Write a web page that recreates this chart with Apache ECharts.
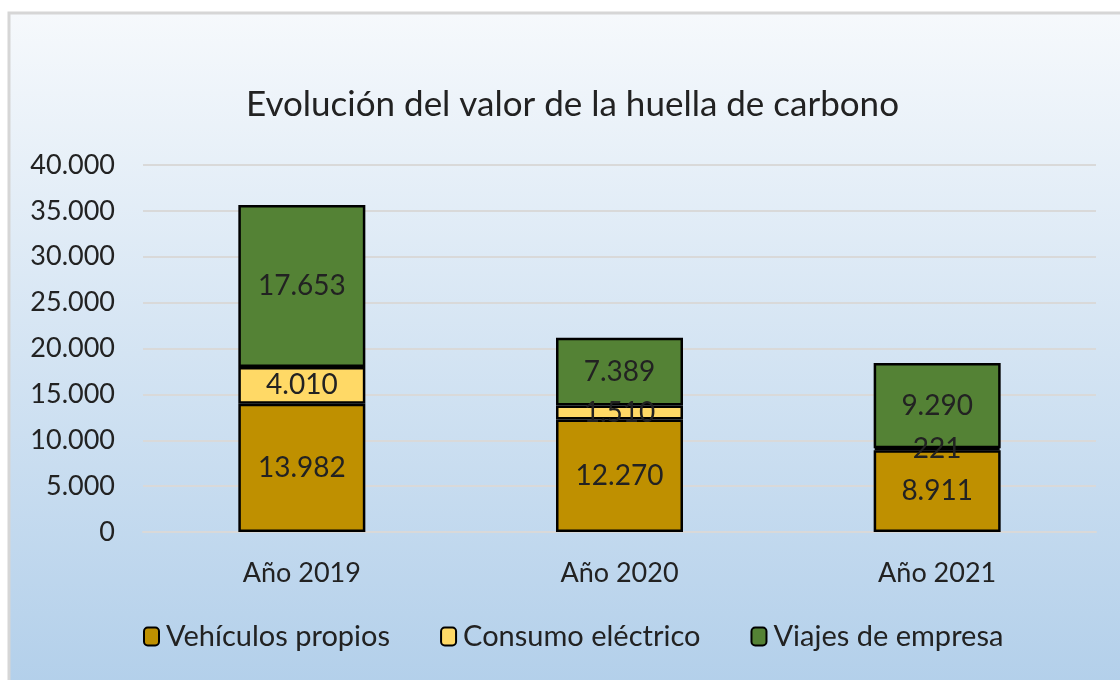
<!DOCTYPE html>
<html>
<head>
<meta charset="utf-8">
<script src="https://cdn.jsdelivr.net/npm/echarts@6/dist/echarts.min.js"></script>
<style>
  html, body { margin: 0; padding: 0; background: #fff; }
  #chart { width: 1120px; height: 680px; }
</style>
</head>
<body>
<div id="chart"></div>
<script>
var years = ['Año 2019', 'Año 2020', 'Año 2021'];
var vehiculos = [13982, 12270, 8911];
var consumo = [4010, 1510, 221];
var viajes = [17653, 7389, 9290];
var seriesNames = ['Vehículos propios', 'Consumo eléctrico', 'Viajes de empresa'];
var colors = ['#bf9000', '#ffd966', '#548235'];

function fmt(v) {
  return String(v).replace(/\B(?=(\d{3})+(?!\d))/g, '.');
}

var FONT = 'Lato';

function makeSeries(name, data, color) {
  return {
    name: name,
    type: 'bar',
    stack: 'total',
    barWidth: 127,
    data: data,
    itemStyle: { color: color, borderColor: '#000', borderWidth: 2.5 },
    label: {
      show: true,
      position: 'inside',
      color: '#222',
      fontFamily: FONT,
      fontSize: 28,
      formatter: function (p) { return fmt(p.value); }
    }
  };
}

var option = {
  animation: false,
  graphic: [{
    type: 'rect',
    shape: { x: 9, y: 13, width: 1120, height: 680 },
    style: {
      fill: new echarts.graphic.LinearGradient(0, 0, 0, 1, [
        { offset: 0, color: '#f6f9fc' },
        { offset: 1, color: '#b2cfea' }
      ]),
      stroke: '#d6d6d6',
      lineWidth: 3
    },
    z: -10
  }],
  title: {
    text: 'Evolución del valor de la huella de carbono',
    left: 241,
    top: 82,
    textStyle: { fontFamily: FONT, fontWeight: 'normal', fontSize: 35, color: '#222' }
  },
  legend: {
    bottom: 24,
    left: 138,
    itemWidth: 15,
    itemHeight: 18,
    itemGap: 50,
    textStyle: { fontFamily: FONT, fontSize: 29, color: '#222', padding: [0, 0, 0, 2] },
    data: seriesNames
  },
  grid: { left: 143, right: 24, top: 165, bottom: 148, containLabel: false },
  xAxis: {
    type: 'category',
    data: years,
    axisLine: { lineStyle: { color: '#d9d9d9', width: 2 } },
    axisTick: { show: false },
    axisLabel: { fontFamily: FONT, fontSize: 27, color: '#222', margin: 28 }
  },
  yAxis: {
    type: 'value',
    min: 0,
    max: 40000,
    interval: 5000,
    axisLine: { show: false },
    axisTick: { show: false },
    splitLine: { lineStyle: { color: '#d9d9d9', width: 2 } },
    axisLabel: {
      fontFamily: FONT, fontSize: 27, color: '#222', margin: 28,
      formatter: function (v) { return fmt(v); }
    }
  },
  series: [
    makeSeries(seriesNames[0], vehiculos, colors[0]),
    makeSeries(seriesNames[1], consumo, colors[1]),
    makeSeries(seriesNames[2], viajes, colors[2])
  ]
};

var chart = echarts.init(document.getElementById('chart'));
chart.setOption(option);
</script>
</body>
</html>
